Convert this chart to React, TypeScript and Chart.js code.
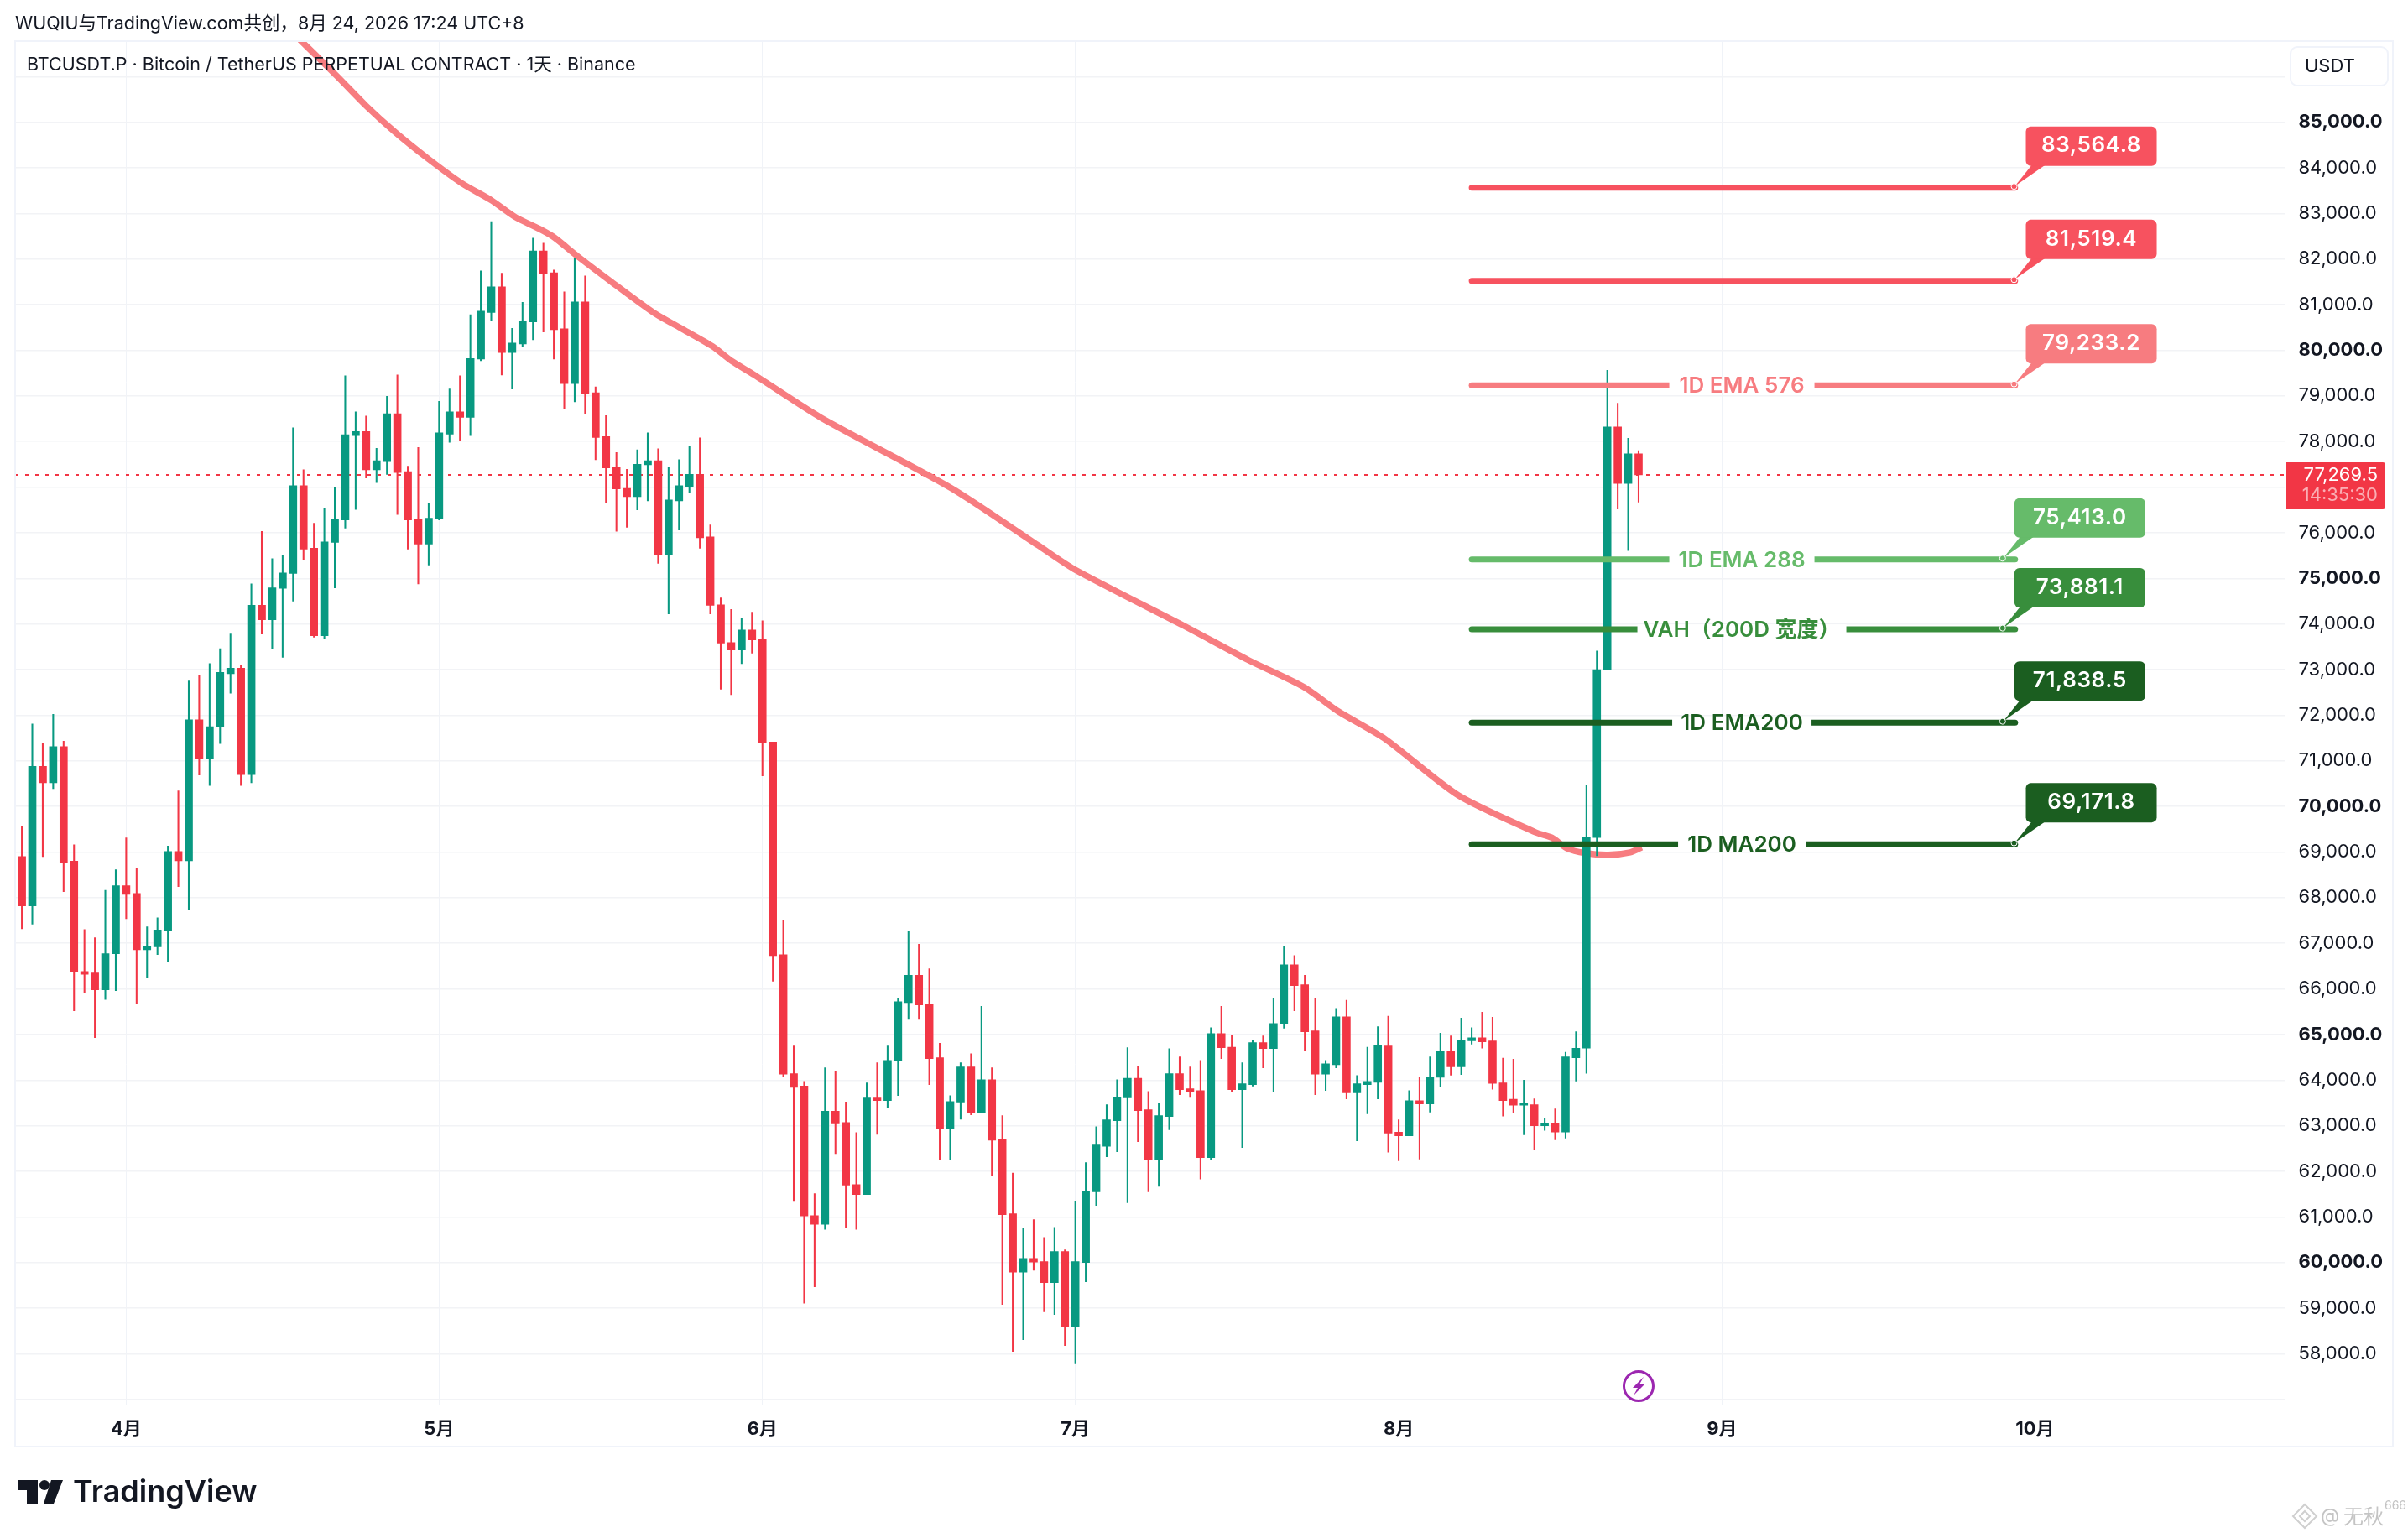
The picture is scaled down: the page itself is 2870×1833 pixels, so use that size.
import React, { useEffect, useRef } from "react";
import { Chart, registerables } from "chart.js";

Chart.register(...registerables);

// Daily candles; day number 0 is 1 April, the first candle is day -10.
const firstDay = -10;
const highs = [69570,71810,71380,72020,71430,69160,67300,67120,68160,68610,69310,68650,67360,67560,69130,70340,72750,72880,73130,73460,73780,73100,74880,76030,75430,75510,78300,77380,76210,76540,77000,79440,78650,78560,77850,78990,79460,77460,77870,76640,78880,79150,79440,80780,81740,82820,81690,80480,81050,82460,82350,81760,81280,82010,81630,79200,78570,77760,77390,77820,78190,77840,77430,77600,77900,78080,76170,74570,74320,74130,74260,74070,71410,67500,64750,63970,61510,64270,64200,63520,62850,63940,64380,64750,65790,67270,66980,66440,64810,63660,64380,64580,65620,64270,63220,61960,60760,60940,60550,60770,60280,61350,62190,62980,63460,64010,64710,64300,63750,63490,64690,64510,64290,64430,65150,65620,64980,64380,64870,64970,65790,66930,66730,66300,65790,64430,65570,65750,64100,64720,65170,65400,63130,63770,64060,64510,65030,64970,65360,65150,65490,65380,64480,64460,64000,63590,63170,63370,64610,65060,70470,73410,79560,78840,78070,77800];
const opens = [68900,67820,70880,70520,71310,68800,66380,66350,65980,66770,68260,68090,66860,66920,67270,69010,68810,71900,71040,71740,72910,73030,70700,74410,74090,74780,75110,77030,75660,73740,75790,76280,78130,78220,77380,77560,78610,77340,76300,75750,76300,78160,78650,78530,79810,80830,81390,79950,80140,80620,82180,81700,80470,79270,81060,79070,78110,77430,76970,76790,77490,77580,75510,76700,77010,77280,75910,74420,73590,73430,73870,73660,71410,66750,64140,63870,61030,60840,63320,63070,61710,61490,63610,63550,64420,65700,66300,65660,64490,62930,63520,64290,63290,64010,62710,61070,59790,60090,60020,59560,60240,58600,60000,61550,62550,63110,63610,64040,63350,62250,63200,64140,63810,63770,62300,65020,64720,63790,63900,64820,64690,65230,66530,66090,65080,64130,64340,65390,63720,63900,63950,64750,62860,62780,63550,63480,64060,64640,64290,64860,64930,64860,63940,63580,63450,63460,63000,63060,62860,64490,64700,69320,73000,78320,77080,77730];
const closes = [67820,70880,70520,71310,68770,66370,66320,65980,66770,68260,68070,66860,66930,67290,69010,68810,71900,71040,71750,72940,73030,70700,74410,74090,74790,75120,77030,75640,73740,75800,76300,78150,78220,77380,77580,78610,77320,76280,75750,76320,78190,78650,78530,79820,80860,81390,79950,80160,80630,82180,81690,80450,79270,81060,79050,78090,77420,76960,76790,77500,77580,75510,76720,77030,77280,75890,74410,73580,73430,73870,73650,71390,66730,64130,63840,61020,60840,63320,63060,61700,61490,63610,63550,64430,65720,66300,65650,64470,62930,63530,64290,63290,64010,62680,61050,59790,60090,60010,59560,60240,58600,60020,61570,62580,63130,63620,64040,63330,62250,63220,64140,63790,63750,62300,65020,64710,63790,63920,64820,64690,65240,66530,66070,65060,64130,64360,65390,63720,63920,63970,64760,62840,62780,63550,63480,64070,64640,64290,64880,64930,64840,63930,63550,63450,63460,63000,63060,62860,64510,64700,69330,73000,78320,77080,77730,77269.5];
const lows = [67320,67420,68900,70390,68130,65520,65910,64930,65770,65960,67540,65680,66250,66750,66590,68240,67730,70690,70460,71380,72480,70460,70520,73780,73460,73270,74500,75400,73710,73680,74790,76100,76510,77200,77100,77280,76400,75640,74880,75290,76280,77980,78020,78130,79770,80650,79460,79150,80090,80230,80400,79810,78720,78870,78610,77600,76660,76030,76120,76500,76700,75330,74220,76060,76880,75660,74220,72570,72450,73130,73360,70670,66170,64070,61360,59110,59470,60730,62390,60770,60730,61490,62810,63390,63660,65330,65330,63900,62250,62260,63140,63240,63290,61900,59080,58050,58310,59830,58920,58860,58180,57780,59580,61250,62320,62430,61310,62650,61550,61670,62910,63680,63620,61830,62260,64470,63740,62520,63870,64270,63750,65140,65520,64650,63680,63770,64270,63590,62670,63260,63590,62420,62230,62780,62270,63300,63850,64110,64120,64790,64700,63800,63210,63280,62800,62480,62900,62690,62730,63980,64150,68920,73000,76520,75610,76670];

// Long moving-average curve, read at irregular days.
const curveDays = [15.6,20.2,23,25.8,29,32.2,35,37.3,39.6,41,43.3,46.5,50.7,53.4,56.2,58.1,60.2,66.6,79.1,87.4,90.9,101.4,107.6,112.9,116.2,120.6,127.7,135.1,136.7,138.1,139.9,142.1,144.2,145.3];
const curveValues = [87043,86013,85360,84780,84191,83658,83290,82922,82664,82480,82057,81505,80806,80456,80088,79757,79463,78524,76979,75728,75200,73961,73207,72618,72085,71496,70245,69435,69314,69086,68975,68938,68994,69104];

// Horizontal levels
const levelValues = [83564.8, 81519.4, 79233.2, 75413.0, 73881.1, 71838.5, 69171.8];
const levelTags = ["83,564.8", "81,519.4", "79,233.2", "75,413.0", "73,881.1", "71,838.5", "69,171.8"];
const levelNames = ["", "", "1D EMA 576", "1D EMA 288", "VAH（200D 宽度）", "1D EMA200", "1D MA200"];
const levelColors = ["#F7525F", "#F7525F", "#F77C80", "#66BB6A", "#388E3C", "#1B5E20", "#1B5E20"];
const levelAnchorDays = [181, 181, 181, 179.9, 179.9, 179.9, 181];
const levelStartDay = 129;
const levelEndDay = 181.1;
const levelLabelDay = 154.9;
const levelGaps = [0, 0, 173, 173, 249, 166, 152];

const lastPrice = 77269.5;
const lastPriceText = "77,269.5";
const countdownText = "14:35:30";
const gridPrices = [57000,58000,59000,60000,61000,62000,63000,64000,65000,66000,67000,68000,69000,70000,71000,72000,73000,74000,75000,76000,77000,78000,79000,80000,81000,82000,83000,84000,85000,86000];
const hiddenPriceLabels = [57000, 77000, 86000];
const monthDays = [0, 30, 61, 91, 122, 153, 183];
const monthLabels = ["4月", "5月", "6月", "7月", "8月", "9月", "10月"];

const headerText = "WUQIU与TradingView.com共创，8月 24, 2026 17:24 UTC+8";
const titleText = "BTCUSDT.P · Bitcoin / TetherUS PERPETUAL CONTRACT · 1天 · Binance";

const UP = "#089981";
const DOWN = "#F23645";
const INK = "#131722";
const FONT = "Inter, 'Noto Sans CJK SC', sans-serif";

const pageArt = {
  id: "pageArt",
  afterDatasetsDraw(chart: any) {
    const { ctx } = chart;
    const x = chart.scales.x;
    const y = chart.scales.y;
    ctx.save();
    levelValues.forEach((v, i) => {
      const ly = y.getPixelForValue(v);
      const color = levelColors[i];
      if (levelNames[i]) {
        const cx = x.getPixelForValue(levelLabelDay);
        ctx.fillStyle = "#ffffff";
        ctx.fillRect(cx - levelGaps[i] / 2, ly - 6, levelGaps[i], 12);
        ctx.fillStyle = color;
        ctx.font = `600 26px ${FONT}`;
        ctx.textAlign = "center";
        ctx.textBaseline = "middle";
        ctx.fillText(levelNames[i], cx, ly + 1);
      }
      const ax = x.getPixelForValue(levelAnchorDays[i]);
      const boxL = ax + 14;
      const boxT = ly - 73;
      const boxW = 156;
      const boxH = 47;
      ctx.fillStyle = color;
      ctx.beginPath();
      ctx.moveTo(boxL + 7, boxT + boxH - 1);
      ctx.lineTo(boxL + 23, boxT + boxH - 1);
      ctx.lineTo(ax + 1, ly - 2);
      ctx.closePath();
      ctx.fill();
      ctx.beginPath();
      ctx.roundRect(boxL, boxT, boxW, boxH, 6);
      ctx.fill();
      ctx.beginPath();
      ctx.arc(ax, ly - 1.5, 3.5, 0, Math.PI * 2);
      ctx.fill();
      ctx.strokeStyle = "#ffffff";
      ctx.lineWidth = 1;
      ctx.stroke();
      ctx.fillStyle = "#ffffff";
      ctx.font = `600 26px ${FONT}`;
      ctx.letterSpacing = "0.6px";
      ctx.textAlign = "center";
      ctx.textBaseline = "middle";
      ctx.fillText(levelTags[i], boxL + boxW / 2, boxT + 23);
      ctx.letterSpacing = "0px";
    });
    ctx.restore();
  },
  afterDraw(chart: any) {
    const { ctx } = chart;
    const x = chart.scales.x;
    const y = chart.scales.y;
    ctx.save();
    // outer frame
    ctx.strokeStyle = "#f0f3fa";
    ctx.lineWidth = 2;
    ctx.strokeRect(18, 49, 2834, 1675);
    // header
    ctx.fillStyle = INK;
    ctx.textAlign = "left";
    ctx.textBaseline = "middle";
    ctx.font = `400 21.5px ${FONT}`;
    ctx.fillText(headerText, 18, 29);
    ctx.fillText(titleText, 32, 78);
    // currency button
    ctx.strokeStyle = "#f0f3fa";
    ctx.lineWidth = 2;
    ctx.fillStyle = "#ffffff";
    ctx.beginPath();
    ctx.roundRect(2730, 56, 116, 46, 8);
    ctx.fill();
    ctx.stroke();
    ctx.fillStyle = INK;
    ctx.font = `400 22px ${FONT}`;
    ctx.fillText("USDT", 2747, 79);
    // last price tag
    const py = y.getPixelForValue(lastPrice);
    ctx.fillStyle = DOWN;
    ctx.beginPath();
    ctx.roundRect(2724, py - 15, 119, 56, [0, 3, 3, 0]);
    ctx.fill();
    ctx.textAlign = "right";
    ctx.fillStyle = "#ffffff";
    ctx.fillText(lastPriceText, 2834, py);
    ctx.fillStyle = "rgba(255,255,255,0.6)";
    ctx.fillText(countdownText, 2834, py + 24);
    // event marker
    const ex = x.getPixelForValue(145);
    const ey = 1652;
    ctx.strokeStyle = "#9C27B0";
    ctx.lineWidth = 3;
    ctx.beginPath();
    ctx.arc(ex, ey, 17.5, 0, Math.PI * 2);
    ctx.stroke();
    ctx.fillStyle = "#9C27B0";
    ctx.beginPath();
    [[6, -11], [-7, 2], [-1, 2], [-6, 11], [7, -2], [1, -2]].forEach(([dx, dy], i) => {
      if (i === 0) ctx.moveTo(ex + dx, ey + dy);
      else ctx.lineTo(ex + dx, ey + dy);
    });
    ctx.closePath();
    ctx.fill();
    // TradingView logo
    ctx.fillStyle = INK;
    ctx.fillRect(22, 1764, 23, 12);
    ctx.fillRect(32, 1764, 13, 28);
    ctx.beginPath();
    ctx.arc(53, 1770, 6, 0, Math.PI * 2);
    ctx.fill();
    ctx.beginPath();
    ctx.moveTo(61, 1764);
    ctx.lineTo(75, 1764);
    ctx.lineTo(64, 1792);
    ctx.lineTo(52, 1792);
    ctx.closePath();
    ctx.fill();
    ctx.textAlign = "left";
    ctx.font = `600 36px ${FONT}`;
    ctx.fillText("TradingView", 87, 1779);
    // watermark
    ctx.strokeStyle = "#cfcfcf";
    ctx.fillStyle = "#c4c4c4";
    ctx.lineWidth = 2;
    const wx = 2747;
    const wy = 1807;
    ctx.beginPath();
    ctx.moveTo(wx, wy - 14);
    ctx.lineTo(wx + 14, wy);
    ctx.lineTo(wx, wy + 14);
    ctx.lineTo(wx - 14, wy);
    ctx.closePath();
    ctx.moveTo(wx, wy - 6);
    ctx.lineTo(wx + 6, wy);
    ctx.lineTo(wx, wy + 6);
    ctx.lineTo(wx - 6, wy);
    ctx.closePath();
    ctx.stroke();
    ctx.font = `400 23px ${FONT}`;
    ctx.fillText("@", 2766, wy);
    ctx.font = "400 24px 'Noto Sans CJK SC'";
    ctx.fillText("无秋", 2793, wy);
    ctx.font = `400 14px ${FONT}`;
    ctx.fillText("666", 2842, wy - 12);
    ctx.restore();
  },
};

export default function App() {
  const ref = useRef<HTMLCanvasElement | null>(null);
  useEffect(() => {
    document.body.style.margin = "0";
    document.body.style.background = "#ffffff";
    const days = highs.map((_, i) => firstDay + i);
    const candleColor = opens.map((o, i) => (closes[i] >= o ? UP : DOWN));
    const levelDatasets = levelValues.map((v, i) => ({
      type: "line" as const,
      data: [
        { x: levelStartDay, y: v },
        { x: levelEndDay, y: v },
      ],
      borderColor: levelColors[i],
      borderWidth: 7,
      borderCapStyle: "round" as const,
      pointRadius: 0,
      order: 0,
    }));
    const chart = new Chart(ref.current as HTMLCanvasElement, {
      type: "bar",
      data: {
        datasets: [
          ...levelDatasets,
          {
            type: "bar",
            data: days.map((d, i) => ({ x: d, y: [opens[i], closes[i]] })),
            backgroundColor: candleColor,
            barThickness: 9,
            minBarLength: 2,
            grouped: false,
            order: 1,
          },
          {
            type: "bar",
            data: days.map((d, i) => ({ x: d, y: [lows[i], highs[i]] })),
            backgroundColor: candleColor,
            barThickness: 1.4,
            grouped: false,
            order: 2,
          },
          {
            type: "line",
            data: curveDays.map((d, i) => ({ x: d, y: curveValues[i] })),
            borderColor: "#F77C80",
            borderWidth: 7.5,
            pointRadius: 0,
            tension: 0.25,
            order: 3,
          },
          {
            type: "line",
            data: [
              { x: -10.65, y: lastPrice },
              { x: 206.9, y: lastPrice },
            ],
            borderColor: DOWN,
            borderWidth: 2,
            borderDash: [4, 8],
            pointRadius: 0,
            order: 4,
          },
        ] as any,
      },
      plugins: [pageArt],
      options: {
        responsive: false,
        animation: false,
        devicePixelRatio: 1,
        layout: { padding: { left: 18, right: 18, top: 49, bottom: 109 } },
        plugins: { legend: { display: false }, tooltip: { enabled: false }, title: { display: false } },
        scales: {
          x: {
            type: "linear",
            min: -10.65,
            max: 206.9,
            offset: false,
            afterFit(s: any) {
              s.height = 49;
            },
            afterBuildTicks(s: any) {
              s.ticks = monthDays.map((value) => ({ value }));
            },
            grid: { color: "#f0f3f8", lineWidth: 1, drawTicks: false, offset: false },
            border: { display: false },
            ticks: {
              autoSkip: false,
              maxRotation: 0,
              padding: 15,
              color: INK,
              font: { family: FONT, size: 22, weight: "700" },
              callback: (value: any) => {
                const i = monthDays.indexOf(Number(value));
                return i >= 0 ? monthLabels[i] : "";
              },
            },
          },
          y: {
            type: "linear",
            position: "right",
            min: 56868,
            max: 86778,
            afterFit(s: any) {
              s.width = 129.5;
            },
            afterBuildTicks(s: any) {
              s.ticks = gridPrices.map((value) => ({ value }));
            },
            grid: { color: "#f2f3f6", lineWidth: 1.5, drawTicks: false },
            border: { display: false },
            ticks: {
              autoSkip: false,
              padding: 17,
              color: INK,
              font: (c: any) => ({
                family: FONT,
                size: 22,
                weight: c.tick && c.tick.value % 5000 === 0 ? "700" : "400",
              }),
              callback: (value: any) => {
                const n = Number(value);
                return hiddenPriceLabels.includes(n)
                  ? ""
                  : n.toLocaleString("en-US", { minimumFractionDigits: 1, maximumFractionDigits: 1 });
              },
            },
          },
        },
      } as any,
    });
    return () => chart.destroy();
  }, []);
  return (
    <div style={{ position: "absolute", left: 0, top: 0, width: 2870, height: 1833 }}>
      <canvas ref={ref} width={2870} height={1833} style={{ display: "block", width: 2870, height: 1833 }} />
    </div>
  );
}
